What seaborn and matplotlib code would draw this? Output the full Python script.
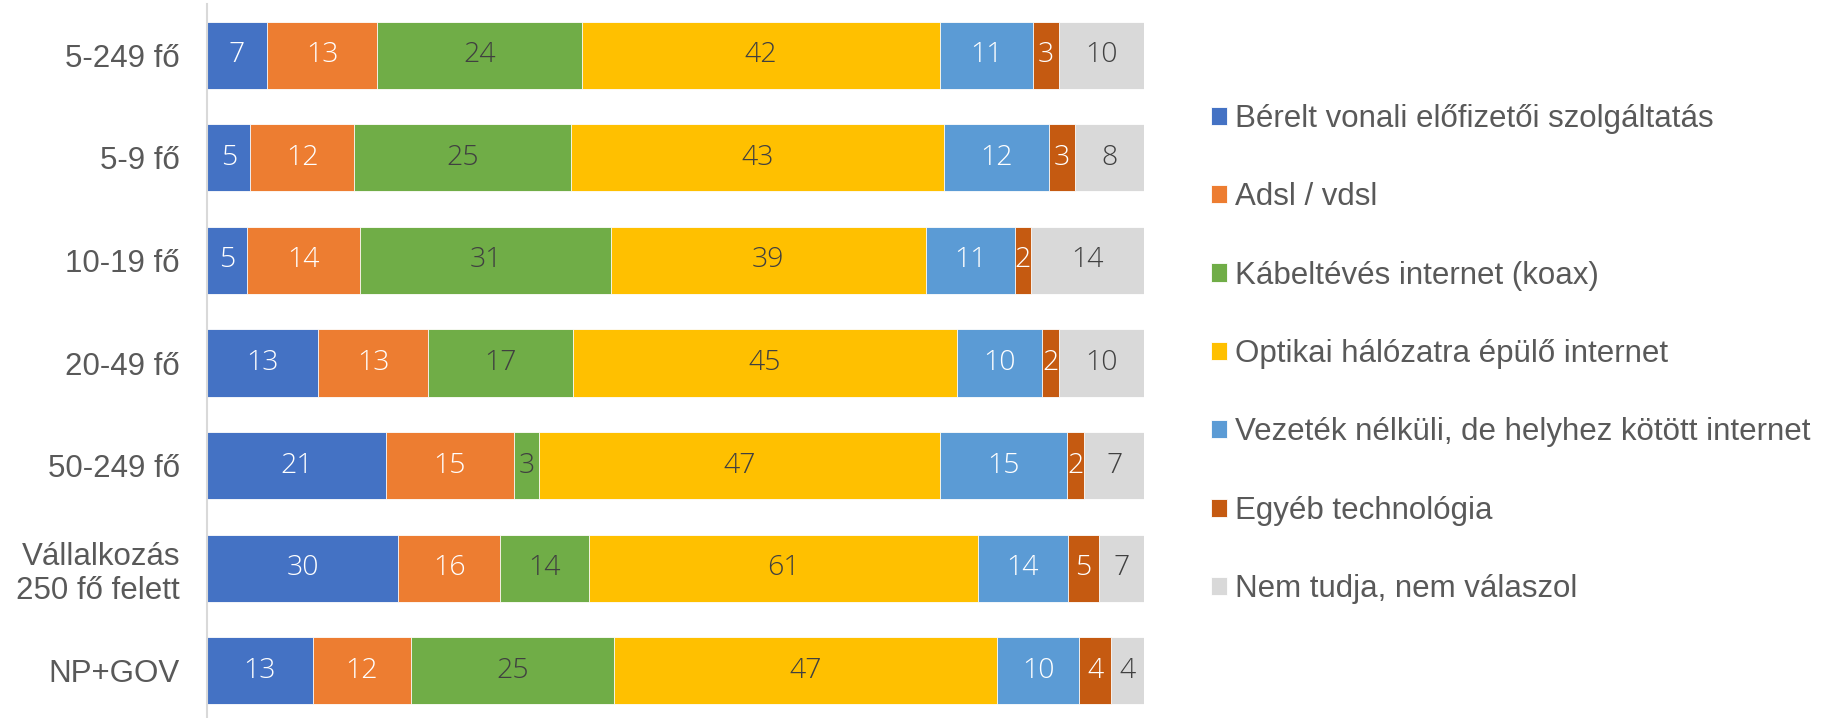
import numpy as np
import pandas as pd
import matplotlib
matplotlib.use("Agg")
import matplotlib.pyplot as plt
import seaborn as sns
from matplotlib import font_manager

# ── DATA ──────────────────────────────────────────────────
groups = ["5-249 fő", "5-9 fő", "10-19 fő", "20-49 fő", "50-249 fő",
          "Vállalkozás\n250 fő felett", "NP+GOV"]
series = ["Bérelt vonali előfizetői szolgáltatás", "Adsl / vdsl",
          "Kábeltévés internet (koax)", "Optikai hálózatra épülő internet",
          "Vezeték nélküli, de helyhez kötött internet", "Egyéb technológia",
          "Nem tudja, nem válaszol"]
berelt = [7, 5, 5, 13, 21, 30, 13]
adsl = [13, 12, 14, 13, 15, 16, 12]
kabel = [24, 25, 31, 17, 3, 14, 25]
optikai = [42, 43, 39, 45, 47, 61, 47]
vezetek = [11, 12, 11, 10, 15, 14, 10]
egyeb = [3, 3, 2, 2, 2, 5, 4]
nem_tudja = [10, 8, 14, 10, 7, 7, 4]

colors = ["#4472C4", "#ED7D31", "#70AD47", "#FFC000", "#5B9BD5", "#C55A11", "#D9D9D9"]
label_colors = ["white", "white", "#404040", "#404040", "white", "white", "#404040"]

# ── STYLE ─────────────────────────────────────────────────
sns.set_theme(style="white")
names = {f.name for f in font_manager.fontManager.ttflist}
plt.rcParams["font.family"] = ["Liberation Sans", "DejaVu Sans"]

values = np.array([berelt, adsl, kabel, optikai, vezetek, egyeb, nem_tudja], dtype=float)
shares = values / values.sum(axis=0) * 100
cum = shares.cumsum(axis=0)

W, H = 1844, 718
fig = plt.figure(figsize=(W / 100, H / 100), dpi=100)
ax = fig.add_axes([207 / W, -4 / H, (1144 - 207) / W, (718 + 4 - 4) / H])

# stacked bars: draw cumulative totals from the outside in
for i in reversed(range(len(series))):
    df = pd.DataFrame({"group": groups, "total": cum[i]})
    sns.barplot(data=df, x="total", y="group", orient="h", ax=ax,
                color=colors[i], width=0.655, edgecolor="white", linewidth=0.6,
                saturation=1, label=series[i])

label_font = "Open Sans" if "Open Sans" in names else "DejaVu Sans"
for i in range(len(series)):
    for j in range(len(groups)):
        xc = cum[i, j] - shares[i, j] / 2
        ax.text(xc, j, f"{values[i, j]:.0f}", ha="center", va="center",
                fontsize=20.5, color=label_colors[i], family=label_font,
                fontweight="light")

ax.set_xlim(0, 100)
ax.set_ylim(6.5, -0.5)
ax.set_xlabel("")
ax.set_ylabel("")
ax.set_xticks([])
ax.tick_params(axis="y", length=0, pad=19.5, labelsize=22.5, labelcolor="#595959")
for lbl in ax.get_yticklabels():
    lbl.set_ha("right")
for s in ["top", "right", "bottom"]:
    ax.spines[s].set_visible(False)
ax.spines["left"].set_color("#D9D9D9")
ax.spines["left"].set_linewidth(1.5)

handles, labels = ax.get_legend_handles_labels()
order = [labels.index(s) for s in series]
ax.legend().remove()
leg = fig.legend([handles[k] for k in order], [labels[k] for k in order],
                 loc="center left", bbox_to_anchor=(1211 / W, 1 - 354 / H),
                 frameon=False, fontsize=22.5, labelspacing=1.55,
                 borderpad=0, borderaxespad=0,
                 handlelength=0.52, handleheight=0.52, handletextpad=0.26)
for t in leg.get_texts():
    t.set_color("#595959")

fig.savefig("out.png", dpi=100)
